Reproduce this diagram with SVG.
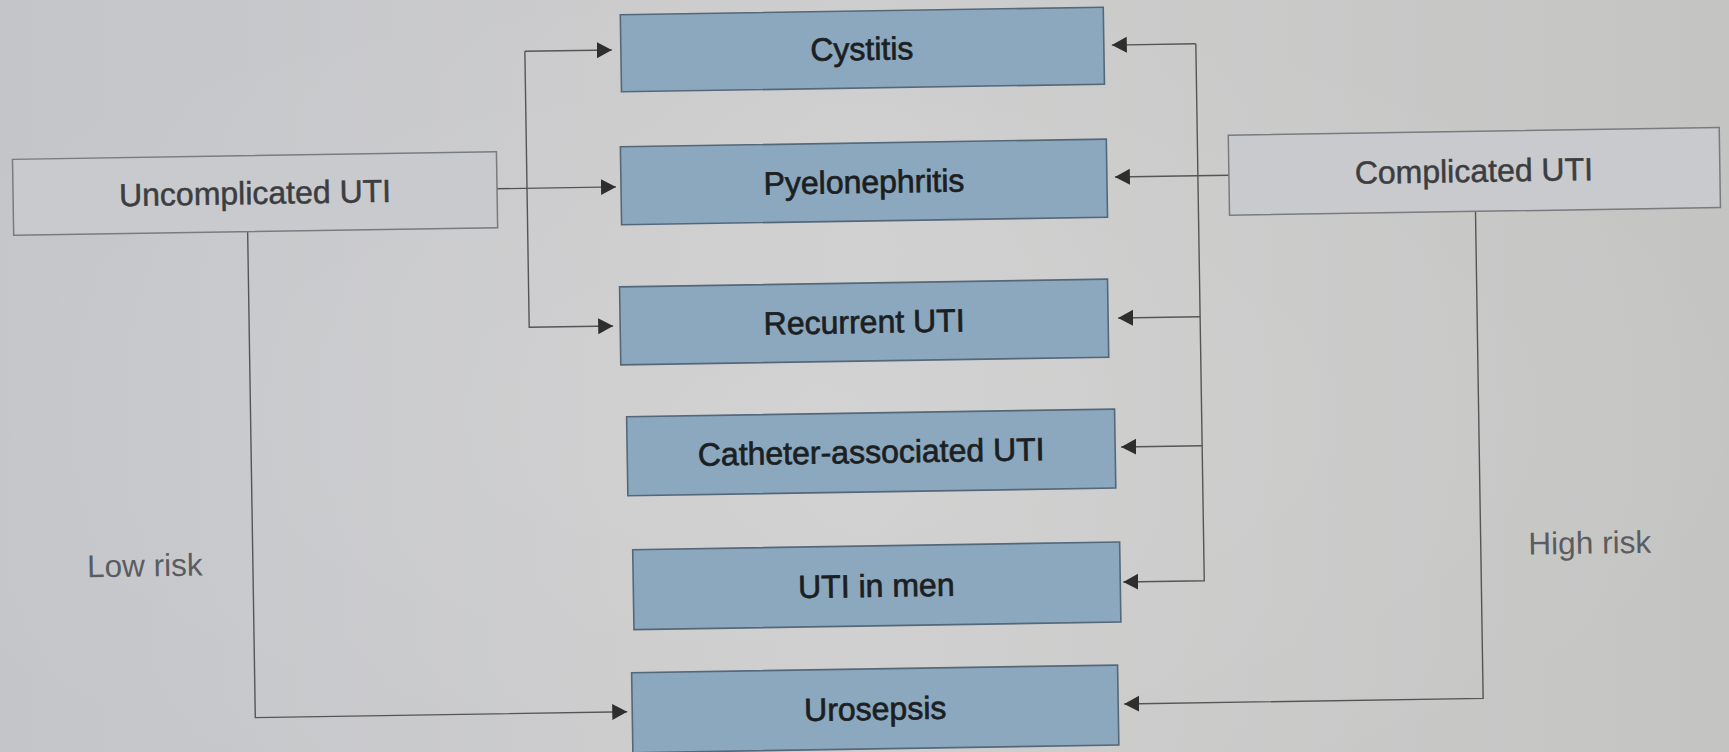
<svg xmlns="http://www.w3.org/2000/svg" width="1729" height="752" viewBox="0 0 1729 752">
  <defs>
    <linearGradient id="bg" x1="0" y1="0" x2="1" y2="0">
      <stop offset="0" stop-color="#c3c5c9"/>
      <stop offset="0.5" stop-color="#cfcece"/>
      <stop offset="1" stop-color="#c4c4c3"/>
    </linearGradient>
    <radialGradient id="glow" cx="0.45" cy="0.55" r="0.6">
      <stop offset="0" stop-color="#ffffff" stop-opacity="0.10"/>
      <stop offset="1" stop-color="#ffffff" stop-opacity="0"/>
    </radialGradient>
    <marker id="arr" markerUnits="userSpaceOnUse" markerWidth="16" markerHeight="18" refX="15" refY="8" orient="auto">
      <path d="M0,0 L15,8 L0,16 z" fill="#2e2e2e"/>
    </marker>
    <style>
      .blue { fill: #8ba8bf; stroke: #55687a; stroke-width: 1.6; }
      .white { fill: #c9cacd; stroke: #7a7b7e; stroke-width: 1.5; }
      .t { font-family: "Liberation Sans", Arial, sans-serif; font-size: 32px; text-anchor: middle; }
      .tb { fill: #1c1f22; stroke: #1c1f22; stroke-width: 0.7; }
      .tw { fill: #3c3d40; stroke: #3c3d40; stroke-width: 0.5; }
      .tr { fill: #5a5c5f; font-size: 31.5px; }
      .c { fill: none; stroke: #555555; stroke-width: 1.4; }
    </style>
  </defs>
  <rect width="1729" height="752" fill="url(#bg)"/>
  <rect width="1729" height="752" fill="url(#glow)"/>
  <g transform="rotate(-0.9 865 376)">
    <g id="connectors">
      <path class="c" d="M500,183 H619" marker-end="url(#arr)"/>
      <path class="c" d="M530,46 H617" marker-end="url(#arr)"/>
      <path class="c" d="M530,46 V322 H614" marker-end="url(#arr)"/>
      <path class="c" d="M250,222 V708 H622" marker-end="url(#arr)"/>
      <path class="c" d="M1232,181 H1118" marker-end="url(#arr)"/>
      <path class="c" d="M1201,49 H1117" marker-end="url(#arr)"/>
      <path class="c" d="M1201,49 V586 H1120" marker-end="url(#arr)"/>
      <path class="c" d="M1201,322 H1119" marker-end="url(#arr)"/>
      <path class="c" d="M1201,451 H1120" marker-end="url(#arr)"/>
      <path class="c" d="M1478,221 V708 H1119" marker-end="url(#arr)"/>
    </g>
    <g id="uncomplicated">
      <rect class="white" x="16" y="146" width="484" height="76"/>
      <text class="t tw" x="258" y="194.5">Uncomplicated UTI</text>
    </g>
    <g id="complicated">
      <rect class="white" x="1232" y="141" width="491" height="80"/>
      <text class="t tw" x="1477" y="191.5">Complicated UTI</text>
    </g>
    <g id="cystitis">
      <rect class="blue" x="626" y="11" width="483" height="77"/>
      <text class="t tb" x="867" y="60">Cystitis</text>
    </g>
    <g id="pyelonephritis">
      <rect class="blue" x="624" y="143" width="486" height="78"/>
      <text class="t tb" x="867" y="193">Pyelonephritis</text>
    </g>
    <g id="recurrent">
      <rect class="blue" x="621" y="283" width="488" height="78"/>
      <text class="t tb" x="865" y="333">Recurrent UTI</text>
    </g>
    <g id="catheter">
      <rect class="blue" x="626" y="413" width="488" height="79"/>
      <text class="t tb" x="870" y="463">Catheter-associated UTI</text>
    </g>
    <g id="men">
      <rect class="blue" x="630" y="546" width="487" height="80"/>
      <text class="t tb" x="873" y="597">UTI in men</text>
    </g>
    <g id="urosepsis">
      <rect class="blue" x="627" y="669" width="486" height="80"/>
      <text class="t tb" x="870" y="720">Urosepsis</text>
    </g>
    <g id="labels">
      <text class="t tr" x="142" y="565">Low risk</text>
      <text class="t tr" x="1587" y="565">High risk</text>
    </g>
  </g>
</svg>
